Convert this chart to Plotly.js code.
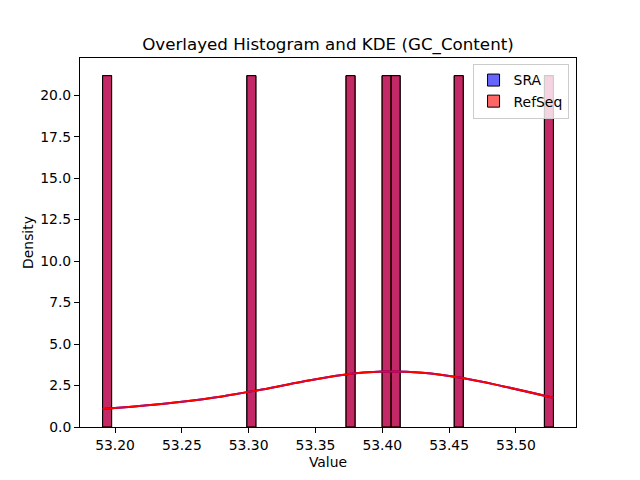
<!DOCTYPE html>
<html>
<head>
<meta charset="utf-8">
<script src="https://cdn.plot.ly/plotly-3.0.1.min.js"></script>
<style>html,body{margin:0;padding:0;background:#fff;}#chart{width:640px;height:480px;}</style>
</head>
<body>
<div id="chart"></div>
<script>
const sraValues = [53.1907, 53.3020, 53.3762, 53.4032, 53.4099, 53.4579, 53.5279];
const refseqValues = [53.1907, 53.3020, 53.3762, 53.4032, 53.4099, 53.4579, 53.5279];

// KDE curve
const kdeX = [53.1907, 53.22, 53.25, 53.28, 53.31, 53.34, 53.37, 53.40, 53.43, 53.46, 53.49, 53.528];
const sraKde = [1.08, 1.28, 1.52, 1.84, 2.26, 2.73, 3.14, 3.34, 3.27, 2.95, 2.46, 1.76];
const refseqKde = [1.08, 1.28, 1.52, 1.84, 2.26, 2.73, 3.14, 3.34, 3.27, 2.95, 2.46, 1.76];

const binStart = 53.1907, binEnd = 53.528, nBins = 50;
const binSize = (binEnd - binStart) / nBins;
const font = "DejaVu Sans, sans-serif";

const traces = [
  {type: 'histogram', x: sraValues, name: 'SRA', histnorm: 'probability density',
   xbins: {start: binStart, end: binEnd, size: binSize}, autobinx: false,
   marker: {color: 'rgba(0,0,255,0.6)', line: {color: '#000', width: 1}}},
  {type: 'histogram', x: refseqValues, name: 'RefSeq', histnorm: 'probability density',
   xbins: {start: binStart, end: binEnd, size: binSize}, autobinx: false,
   marker: {color: 'rgba(255,0,0,0.6)', line: {color: '#000', width: 1}}},
  {type: 'scatter', mode: 'lines', x: kdeX, y: sraKde, showlegend: false,
   line: {color: 'blue', width: 2, shape: 'spline'}, hoverinfo: 'skip'},
  {type: 'scatter', mode: 'lines', x: kdeX, y: refseqKde, showlegend: false,
   line: {color: 'red', width: 2, shape: 'spline'}, hoverinfo: 'skip'}
];

const layout = {
  width: 640, height: 480,
  margin: {l: 80, r: 64, t: 58, b: 53, pad: 0},
  paper_bgcolor: '#fff', plot_bgcolor: '#fff',
  barmode: 'overlay', bargap: 0,
  font: {family: font, size: 13.9, color: '#000'},
  title: {text: 'Overlayed Histogram and KDE (GC_Content)', font: {family: font, size: 16.7, color: '#000'},
          x: 0.5, xref: 'paper', xanchor: 'center', y: 0.908, yref: 'container', yanchor: 'middle'},
  xaxis: {range: [53.1738, 53.5449], tick0: 53.2, dtick: 0.05, tickformat: '.2f',
          showgrid: false, zeroline: false, showline: true, linecolor: '#000', linewidth: 1, mirror: true,
          ticks: 'outside', ticklen: 5, tickcolor: '#000', tickfont: {family: font, size: 13.9, color: '#000'},
          title: {text: 'Value', font: {family: font, size: 13.9, color: '#000'}, standoff: 5}},
  yaxis: {range: [0, 22.24], tick0: 0, dtick: 2.5, tickformat: '.1f',
          showgrid: false, zeroline: false, showline: true, linecolor: '#000', linewidth: 1, mirror: true,
          ticks: 'outside', ticklen: 5, tickcolor: '#000', tickfont: {family: font, size: 13.9, color: '#000'},
          title: {text: 'Density', font: {family: font, size: 13.9, color: '#000'}, standoff: 3}},
  legend: {x: 0.985, y: 0.985, xanchor: 'right', yanchor: 'top', bgcolor: 'rgba(255,255,255,0.8)',
           bordercolor: '#cccccc', borderwidth: 1, font: {family: font, size: 13.9, color: '#000'},
           tracegroupgap: 2}
};

Plotly.newPlot('chart', traces, layout, {staticPlot: true, displayModeBar: false});
</script>
</body>
</html>
